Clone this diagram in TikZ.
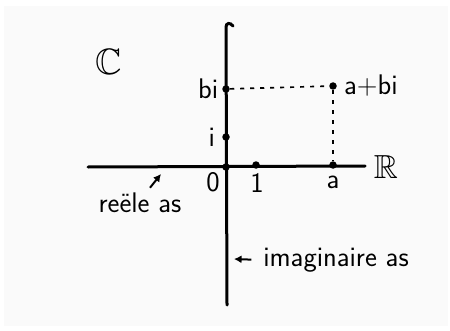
\documentclass[tikz,border=0pt]{standalone}
\usepackage{amsmath}
\usepackage{amssymb}
\usetikzlibrary{arrows.meta,positioning}

\begin{document}
\begin{tikzpicture}[
  x=0.6pt,y=-0.6pt,
  axis/.style={line width=1.8pt,line cap=round},
  guide/.style={dashed,dash pattern=on 2.5pt off 3.5pt,line width=1pt},
  dot/.style={circle,fill,inner sep=0pt,minimum size=4.5pt},
  lbl/.style={font=\fontsize{17}{19}\selectfont\sffamily,inner sep=1pt},
  arr/.style={-{Latex[length=1.6mm,width=1.7mm]},line width=1.2pt}
]
\useasboundingbox (0,0) rectangle (450,330);
\fill[gray!4] (4,6) rectangle (448,326);
\coordinate (xl) at (88,167);
\coordinate (xr) at (365,166);
\coordinate (yb) at (227,305);
\coordinate (yt) at (226,27);
\draw[axis] (xl) -- (xr);
\draw[axis] (yb) -- (yt) .. controls (226,23) and (230,22) .. (233,26);
\node[dot] (orig) at (226,167) {};
\node[dot] (one) at (256,165) {};
\node[dot] (pa) at (333,165) {};
\node[dot] (pi) at (226,137) {};
\node[dot] (pb) at (226,89) {};
\node[dot] (z) at (333,86) {};
\draw[guide] (pb) -- (z);
\draw[guide] (z) -- (pa);
\node[lbl,font=\fontsize{22}{24}\selectfont] (cset) at (109,62) {$\mathbb{C}$};
\node[lbl,font=\fontsize{20}{22}\selectfont] (rset) at (386,167) {$\mathbb{R}$};
\node[lbl,left=1pt of pb] (bilbl) {bi};
\node[lbl,left=3pt of pi] (ilbl) {i};
\node[lbl] (zlbl) at (213,182) {0};
\node[lbl] (onelbl) at (257,183) {1};
\node[lbl] (alb) at (333,182) {a};
\node[lbl,right=3pt of z] (zlb) {a+bi};
\node[lbl] (reeel) at (140,203) {reële as};
\node[lbl] (imag) at (336,260) {imaginaire as};
\coordinate (rtip) at (161,174);
\coordinate (itip) at (234,259);
\draw[arr] ([shift={(6pt,2pt)}]reeel.north) -- (rtip);
\draw[arr,shorten <=6pt] (imag.west) -- (itip);
\end{tikzpicture}
\end{document}
